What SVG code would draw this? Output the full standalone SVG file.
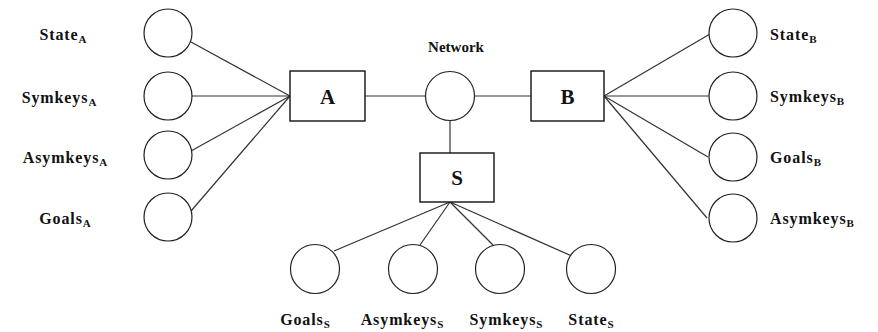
<svg xmlns="http://www.w3.org/2000/svg" width="878" height="332" viewBox="0 0 878 332">
<style>
.n{fill:#fff;stroke:#222;stroke-width:1.2}
.b{fill:#fff;stroke:#111;stroke-width:1.4}
.e{stroke:#333;stroke-width:1.2;fill:none}
.t{font-family:"Liberation Serif",serif;font-weight:bold;font-size:16px;fill:#111;letter-spacing:0.9px}
.s{font-size:11px;letter-spacing:0}
.m{text-anchor:middle}
.big{font-family:"Liberation Serif",serif;font-weight:bold;font-size:21px;fill:#111;text-anchor:middle}
.net{font-family:"Liberation Serif",serif;font-weight:bold;font-size:15px;fill:#111;text-anchor:middle}
</style>
<rect width="878" height="332" fill="#fff"/>
<g id="connectors">
<line class="e" x1="290" y1="96" x2="191" y2="42"/>
<line class="e" x1="290" y1="96" x2="192" y2="96"/>
<line class="e" x1="290" y1="96" x2="191" y2="151"/>
<line class="e" x1="290" y1="96" x2="191" y2="211"/>
<line class="e" x1="365" y1="96" x2="425" y2="96"/>
<line class="e" x1="475" y1="96" x2="531" y2="96"/>
<line class="e" x1="450" y1="121" x2="450" y2="153"/>
<line class="e" x1="604" y1="96" x2="710" y2="34"/>
<line class="e" x1="604" y1="96" x2="709" y2="96"/>
<line class="e" x1="604" y1="96" x2="708" y2="157"/>
<line class="e" x1="604" y1="96" x2="707" y2="218"/>
<line class="e" x1="450" y1="202" x2="334" y2="251"/>
<line class="e" x1="450" y1="202" x2="420" y2="245"/>
<line class="e" x1="450" y1="202" x2="493" y2="245"/>
<line class="e" x1="450" y1="202" x2="574" y2="257"/>
</g>
<g id="A"><rect class="b" x="290" y="71" width="75" height="50"/><text class="big" x="327.5" y="103.5">A</text></g>
<g id="B"><rect class="b" x="531" y="71" width="73" height="50"/><text class="big" x="567.5" y="103.5">B</text></g>
<g id="S"><rect class="b" x="420" y="153" width="74" height="49"/><text class="big" x="457" y="185">S</text></g>
<g id="Network"><circle class="n" cx="450" cy="96" r="24.5"/><text class="net" x="456" y="52">Network</text></g>
<g id="StateA"><circle class="n" cx="168" cy="33" r="24"/><text class="t m" x="63" y="40">State<tspan class="s" dy="3">A</tspan></text></g>
<g id="SymkeysA"><circle class="n" cx="168" cy="96" r="24"/><text class="t m" x="59" y="103">Symkeys<tspan class="s" dy="3">A</tspan></text></g>
<g id="AsymkeysA"><circle class="n" cx="168" cy="155" r="24"/><text class="t m" x="65" y="163">Asymkeys<tspan class="s" dy="3">A</tspan></text></g>
<g id="GoalsA"><circle class="n" cx="168" cy="217" r="24"/><text class="t m" x="65" y="224">Goals<tspan class="s" dy="3">A</tspan></text></g>
<g id="StateB"><circle class="n" cx="733" cy="33" r="24"/><text class="t" x="770" y="40">State<tspan class="s" dy="3">B</tspan></text></g>
<g id="SymkeysB"><circle class="n" cx="733" cy="96" r="24"/><text class="t" x="770" y="102">Symkeys<tspan class="s" dy="3">B</tspan></text></g>
<g id="GoalsB"><circle class="n" cx="733" cy="157" r="24"/><text class="t" x="770" y="163">Goals<tspan class="s" dy="3">B</tspan></text></g>
<g id="AsymkeysB"><circle class="n" cx="733" cy="218" r="24"/><text class="t" x="770" y="224">Asymkeys<tspan class="s" dy="3">B</tspan></text></g>
<g id="GoalsS"><circle class="n" cx="315" cy="269" r="24.5"/><text class="t m" x="305" y="325">Goals<tspan class="s" dy="3">S</tspan></text></g>
<g id="AsymkeysS"><circle class="n" cx="413" cy="269" r="24.5"/><text class="t m" x="402" y="325">Asymkeys<tspan class="s" dy="3">S</tspan></text></g>
<g id="SymkeysS"><circle class="n" cx="500" cy="269" r="24.5"/><text class="t m" x="506" y="325">Symkeys<tspan class="s" dy="3">S</tspan></text></g>
<g id="StateS"><circle class="n" cx="591" cy="269" r="24.5"/><text class="t m" x="591" y="325">State<tspan class="s" dy="3">S</tspan></text></g>
</svg>
